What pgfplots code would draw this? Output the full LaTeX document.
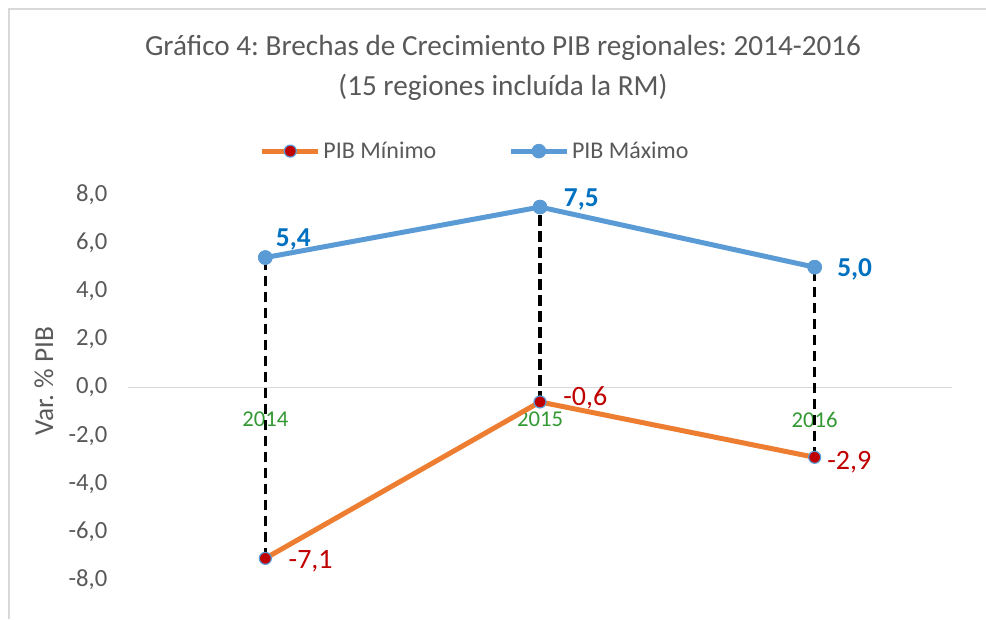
\documentclass[border=0pt]{standalone}
\usepackage{pgfplots}
\pgfplotsset{compat=1.18}
\usepackage{fontspec}
\setmainfont{Carlito}
\frenchspacing
\definecolor{txtgray}{HTML}{595959}
\definecolor{minorange}{HTML}{ED7D31}
\definecolor{maxblue}{HTML}{5B9BD5}
\definecolor{lblblue}{HTML}{0070C0}
\definecolor{lblred}{HTML}{C00000}
\definecolor{xgreen}{HTML}{339933}
\definecolor{bordergray}{HTML}{D9D9D9}
\begin{document}
\begin{tikzpicture}[x=0.75pt,y=0.75pt]
\useasboundingbox (0,0) rectangle (986,619);
\coordinate (AX) at (128,39);
\draw[bordergray, line width=1.5pt] (9,0) -- (9,610) -- (986,610);
\node[txtgray, font=\fontsize{21.9}{26}\selectfont] at (503,571) {Gráfico 4: Brechas de Crecimiento PIB regionales: 2014-2016};
\node[txtgray, font=\fontsize{21.9}{26}\selectfont] at (503,532) {(15 regiones incluída la RM)};
\node[txtgray, rotate=90, font=\fontsize{20.5}{24}\selectfont] at (44,238) {Var. \% PIB};
\begin{axis}[
  at={(AX)}, anchor=south west,
  scale only axis, width=618pt, height=288.75pt,
  xmin=-0.5, xmax=2.5, ymin=-8, ymax=8,
  axis x line=middle, axis y line*=left,
  x axis line style={draw=bordergray, line width=1pt, -},
  y axis line style={draw=none},
  tick style={draw=none},
  xtick={0,1,2}, xticklabels={2014,2015,2016},
  xticklabel style={text=xgreen, font=\fontsize{17}{20}\selectfont, yshift=-12.5pt},
  ytick={-8,-6,...,8},
  yticklabel style={text=txtgray, font=\fontsize{18.5}{22}\selectfont, xshift=-12pt,
    /pgf/number format/.cd, fixed, fixed zerofill, precision=1, use comma},
  /pgf/number format/assume math mode=true,
  clip=false,
  legend columns=2,
  legend style={at={(axis description cs:0.4217,1.114)}, anchor=center, draw=none, fill=none,
    font=\fontsize{18}{22}\selectfont, text=txtgray,
    /tikz/every even column/.append style={column sep=52pt}},
  legend image code/.code={\draw[mark repeat=2,mark phase=2] plot coordinates {(0pt,0pt)(21pt,0pt)(42pt,0pt)};},
]
\addplot[minorange, line width=3.75pt, mark=*, mark size=4.5pt,
  mark options={fill=lblred, draw=maxblue, line width=0.9pt}]
  coordinates {(0,-7.1) (1,-0.6) (2,-2.9)};
\addlegendentry{PIB Mínimo}
\addplot[maxblue, line width=3.75pt, mark=*, mark size=5.2pt,
  mark options={fill=maxblue, draw=maxblue, line width=0.5pt}]
  coordinates {(0,5.4) (1,7.5) (2,5.0)};
\addlegendentry{PIB Máximo}
\addplot[black, line width=2.3pt, dash pattern=on 8pt off 4pt, forget plot] coordinates {(0,-7.1) (0,5.4)};
\addplot[black, line width=2.3pt, dash pattern=on 8pt off 4pt, forget plot] coordinates {(1,-0.6) (1,7.5)};
\addplot[black, line width=2.3pt, dash pattern=on 8pt off 4pt, forget plot] coordinates {(2,-2.9) (2,5.0)};
\addplot[maxblue, only marks, mark=*, mark size=5.2pt, mark options={fill=maxblue, draw=maxblue}, forget plot]
  coordinates {(0,5.4) (1,7.5) (2,5.0)};
\node[lblblue, font=\bfseries\fontsize{20.5}{24}\selectfont] at ([xshift=21pt,yshift=13.5pt]axis cs:0,5.4) {5,4};
\node[lblblue, font=\bfseries\fontsize{20.5}{24}\selectfont] at ([xshift=31pt,yshift=6pt]axis cs:1,7.5) {7,5};
\node[lblblue, font=\bfseries\fontsize{20.5}{24}\selectfont] at ([xshift=30pt,yshift=-1.5pt]axis cs:2,5.0) {5,0};
\node[lblred, font=\fontsize{21}{24}\selectfont] at ([xshift=34pt,yshift=3pt]axis cs:1,-0.6) {-0,6};
\node[lblred, font=\fontsize{21}{24}\selectfont] at ([xshift=26pt,yshift=-4pt]axis cs:2,-2.9) {-2,9};
\node[lblred, font=\fontsize{21}{24}\selectfont] at ([xshift=34pt,yshift=-2pt]axis cs:0,-7.1) {-7,1};
\end{axis}
\end{tikzpicture}
\end{document}
